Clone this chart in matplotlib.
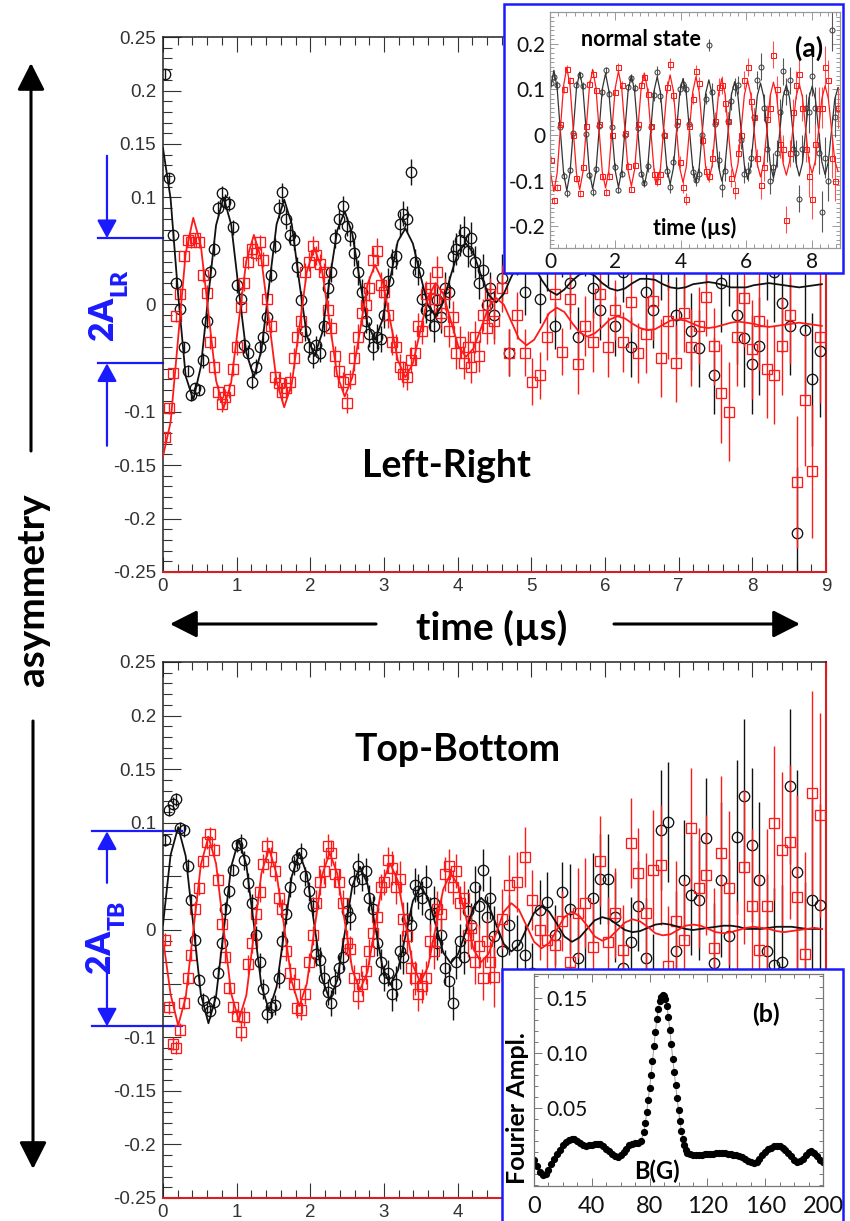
import matplotlib
matplotlib.use("Agg")
import matplotlib.pyplot as plt
import matplotlib.transforms as mtransforms
from matplotlib.patches import Rectangle
from matplotlib.ticker import MultipleLocator, FixedLocator, FuncFormatter

plt.rcParams["font.family"] = ["Liberation Sans", "DejaVu Sans"]

# ---------------- main panels: time bins (us) ----------------
TIME = [0.026, 0.077, 0.129, 0.180, 0.231, 0.283, 0.334, 0.385, 0.437, 0.488,
        0.540, 0.591, 0.642, 0.694, 0.745, 0.797, 0.848, 0.899, 0.951, 1.002,
        1.054, 1.105, 1.156, 1.208, 1.259, 1.311, 1.362, 1.413, 1.465, 1.516,
        1.568, 1.619, 1.671, 1.722, 1.773, 1.825, 1.876, 1.927, 1.979, 2.030,
        2.081, 2.133, 2.184, 2.235, 2.287, 2.338, 2.390, 2.441, 2.492, 2.544,
        2.595, 2.646, 2.698, 2.749, 2.800, 2.852, 2.903, 2.955, 3.006, 3.057,
        3.109, 3.160, 3.211, 3.263, 3.314, 3.365, 3.417, 3.468, 3.519, 3.571,
        3.622, 3.673, 3.725, 3.776, 3.827, 3.879, 3.930, 3.981, 4.033, 4.084,
        4.135, 4.187, 4.238, 4.289, 4.341, 4.392, 4.443,
        4.498, 4.600, 4.703, 4.806, 4.909, 5.011, 5.114, 5.217, 5.320, 5.423,
        5.525, 5.628, 5.731, 5.834, 5.936, 6.039, 6.142, 6.245, 6.347, 6.450,
        6.553, 6.656, 6.758, 6.861, 6.964, 7.067, 7.169, 7.272, 7.375, 7.478,
        7.580, 7.683, 7.786, 7.889, 7.991, 8.094, 8.197, 8.300, 8.402, 8.505,
        8.608, 8.711, 8.813, 8.916]

FIT_T = [0.000, 0.103, 0.206, 0.308, 0.411, 0.514, 0.617, 0.720, 0.822, 0.925,
         1.028, 1.131, 1.234, 1.336, 1.439, 1.542, 1.645, 1.748, 1.850, 1.953,
         2.056, 2.159, 2.262, 2.364, 2.467, 2.570, 2.673, 2.776, 2.878, 2.981,
         3.084, 3.187, 3.290, 3.392, 3.495, 3.598, 3.701, 3.804, 3.906, 4.009,
         4.112, 4.215, 4.318, 4.420, 4.523, 4.626, 4.729, 4.831, 4.934, 5.037,
         5.140, 5.243, 5.346, 5.448, 5.551, 5.654, 5.757, 5.860, 5.962, 6.065,
         6.168, 6.271, 6.374, 6.476, 6.579, 6.682, 6.785, 6.888, 6.990, 7.093,
         7.196, 7.299, 7.402, 7.504, 7.607, 7.710, 7.813, 7.916, 8.018, 8.121,
         8.224, 8.327, 8.430, 8.532, 8.635, 8.738, 8.841, 8.944]

# Left-Right asymmetry
LR_BLACK = [0.215, 0.118, 0.065, 0.020, -0.004, -0.040, -0.062, -0.085, -0.078, -0.080,
            -0.052, -0.015, 0.030, 0.052, 0.090, 0.104, 0.096, 0.094, 0.072, 0.018,
            0.005, -0.038, -0.045, -0.072, -0.058, -0.040, -0.030, -0.012, 0.028, 0.055,
            0.090, 0.105, 0.080, 0.065, 0.060, 0.035, 0.004, -0.025, -0.040, -0.050,
            -0.038, -0.045, -0.020, 0.015, 0.030, 0.062, 0.080, 0.092, 0.073, 0.064,
            0.048, 0.030, 0.012, -0.015, -0.028, -0.040, -0.030, -0.032, -0.010, 0.022,
            0.040, 0.045, 0.075, 0.085, 0.080, 0.124, 0.040, 0.030, 0.005, -0.005,
            -0.010, -0.020, 0.004, -0.012, 0.015, 0.012, 0.045, 0.052, 0.060, 0.068,
            0.050, 0.062, 0.040, 0.020, 0.032, 0.000, 0.015,
            -0.010, 0.025, -0.045, 0.050, 0.012, 0.060, 0.005, 0.035, -0.020, 0.048,
            0.020, -0.030, 0.055, 0.015, -0.005, 0.045, -0.020, 0.030, -0.040, 0.060,
            0.012, -0.005, 0.040, 0.050, -0.010, 0.035, -0.025, -0.041, 0.055, -0.066,
            0.020, 0.045, -0.010, -0.031, -0.056, -0.039, 0.050, 0.030, 0.001, -0.020,
            -0.214, -0.024, -0.070, -0.043]
LR_RED = [-0.124, -0.097, -0.064, -0.011, 0.010, 0.045, 0.060, 0.058, 0.062, 0.058,
          0.028, 0.011, -0.035, -0.058, -0.082, -0.093, -0.086, -0.080, -0.060, -0.040,
          -0.002, 0.020, 0.040, 0.052, 0.048, 0.058, 0.042, 0.005, -0.020, -0.068,
          -0.073, -0.082, -0.078, -0.072, -0.050, -0.030, -0.015, 0.030, 0.040, 0.055,
          0.046, 0.038, 0.030, -0.005, -0.022, -0.048, -0.062, -0.072, -0.092, -0.070,
          -0.050, -0.030, -0.008, 0.000, 0.015, 0.042, 0.050, 0.018, 0.012, -0.010,
          -0.035, -0.040, -0.058, -0.065, -0.068, -0.052, -0.045, -0.020, -0.025, 0.010,
          0.015, 0.005, 0.030, -0.008, 0.010, -0.025, -0.012, -0.045, -0.035, -0.055,
          -0.040, -0.058, -0.030, -0.048, -0.010, -0.022, 0.010,
          -0.015, 0.015, -0.045, -0.010, -0.045, -0.072, -0.066, -0.030, 0.010, -0.044,
          0.005, -0.056, -0.020, -0.035, 0.010, -0.040, -0.005, -0.035, 0.002, -0.045,
          -0.028, 0.003, -0.050, -0.015, -0.055, -0.008, -0.040, -0.020, 0.007, -0.039,
          -0.083, -0.100, -0.030, 0.006, -0.042, -0.015, -0.060, -0.066, -0.039, -0.010,
          -0.166, -0.089, -0.156, -0.030]
LR_ERR = ([0.005] * 10 + [0.007] * 20 + [0.009] * 20 + [0.012] * 20 + [0.015] * 17
          + [0.022] * 10 + [0.028] * 10 + [0.036] * 10 + [0.046] * 10 + [0.062] * 4)
LR_BLACK_FIT = [0.146, 0.099, 0.009, -0.067, -0.089, -0.058, 0.009, 0.074,
                0.100, 0.075, 0.014, -0.045, -0.068, -0.043, 0.017, 0.075,
                0.098, 0.075, 0.021, -0.029, -0.048, -0.027, 0.023, 0.069,
                0.087, 0.066, 0.022, -0.018, -0.033, -0.014, 0.024, 0.059,
                0.071, 0.057, 0.027, -0.001, -0.011, 0.002, 0.027, 0.050,
                0.057, 0.048, 0.027, 0.009, 0.002, 0.010, 0.026, 0.039,
                0.042, 0.036, 0.023, 0.013, 0.009, 0.014, 0.022, 0.028,
                0.030, 0.027, 0.020, 0.015, 0.013, 0.015, 0.020, 0.024,
                0.024, 0.023, 0.019, 0.016, 0.015, 0.016, 0.019, 0.020,
                0.021, 0.020, 0.018, 0.016, 0.016, 0.016, 0.018, 0.019,
                0.020, 0.019, 0.018, 0.017, 0.016, 0.017, 0.018, 0.019]
LR_RED_FIT = [-0.142, -0.110, -0.031, 0.048, 0.081, 0.055, -0.008, -0.071,
              -0.097, -0.073, -0.016, 0.041, 0.065, 0.042, -0.015, -0.072,
              -0.096, -0.074, -0.022, 0.031, 0.053, 0.032, -0.017, -0.066,
              -0.086, -0.068, -0.025, 0.019, 0.037, 0.022, -0.015, -0.052,
              -0.068, -0.055, -0.024, 0.007, 0.020, 0.010, -0.015, -0.039,
              -0.049, -0.041, -0.022, -0.002, 0.006, 0.000, -0.016, -0.032,
              -0.038, -0.033, -0.021, -0.008, -0.003, -0.007, -0.017, -0.026,
              -0.030, -0.027, -0.021, -0.014, -0.011, -0.013, -0.018, -0.022,
              -0.024, -0.023, -0.019, -0.015, -0.014, -0.015, -0.018, -0.021,
              -0.022, -0.021, -0.019, -0.017, -0.016, -0.017, -0.018, -0.020,
              -0.021, -0.020, -0.019, -0.018, -0.017, -0.018, -0.019, -0.020]

# Top-Bottom asymmetry
TB_BLACK = [0.084, 0.112, 0.118, 0.122, 0.095, 0.093, 0.060, 0.028, -0.009, -0.047,
            -0.065, -0.072, -0.076, -0.067, -0.040, -0.012, 0.020, 0.036, 0.056, 0.079,
            0.081, 0.065, 0.044, 0.025, -0.005, -0.030, -0.055, -0.078, -0.072, -0.070,
            -0.045, -0.010, 0.015, 0.040, 0.060, 0.066, 0.072, 0.050, 0.036, 0.022,
            -0.022, -0.028, -0.045, -0.058, -0.068, -0.048, -0.035, -0.025, 0.018, 0.012,
            0.046, 0.060, 0.048, 0.055, 0.030, 0.020, -0.012, -0.030, -0.045, -0.040,
            -0.060, -0.050, -0.020, -0.025, 0.010, 0.005, 0.042, 0.036, 0.030, 0.045,
            0.015, 0.025, -0.012, -0.005, -0.035, -0.048, -0.068, -0.030, -0.010, -0.025,
            0.018, 0.005, 0.040, 0.022, 0.056, 0.012, 0.030,
            -0.006, -0.020, 0.005, -0.014, -0.023, -0.040, 0.019, 0.026, -0.005, 0.035,
            0.020, -0.026, -0.045, 0.030, 0.048, 0.048, 0.012, -0.035, -0.011, 0.022,
            -0.026, -0.060, 0.093, 0.101, -0.020, 0.047, 0.033, 0.028, 0.086, -0.031,
            0.047, -0.006, 0.087, 0.125, 0.079, 0.047, -0.020, -0.033, -0.030, 0.134,
            0.054, -0.050, 0.028, 0.023]
TB_RED = [-0.009, -0.072, -0.106, -0.110, -0.093, -0.068, -0.045, -0.023, 0.020, 0.039,
          0.064, 0.082, 0.090, 0.075, 0.047, 0.006, -0.025, -0.054, -0.072, -0.080,
          -0.095, -0.081, -0.032, -0.012, 0.015, 0.035, 0.062, 0.078, 0.068, 0.055,
          0.030, 0.020, -0.020, -0.040, -0.050, -0.073, -0.075, -0.060, -0.030, -0.005,
          0.025, 0.045, 0.055, 0.078, 0.072, 0.052, 0.045, 0.025, -0.012, -0.018,
          -0.045, -0.062, -0.050, -0.038, -0.020, -0.003, 0.012, 0.040, 0.045, 0.065,
          0.058, 0.040, 0.048, 0.010, -0.006, -0.035, -0.045, -0.060, -0.052, -0.045,
          -0.010, -0.020, 0.020, 0.015, 0.052, 0.060, 0.040, 0.055, 0.025, 0.030,
          -0.005, 0.002, -0.030, -0.015, -0.045, -0.010, -0.030,
          -0.044, 0.010, 0.042, 0.045, 0.068, 0.028, 0.000, -0.009, -0.014, 0.008,
          -0.030, 0.016, 0.025, -0.016, 0.064, -0.011, 0.016, -0.019, 0.081, 0.053,
          0.016, 0.056, 0.061, -0.034, 0.008, -0.009, 0.095, 0.039, 0.051, -0.017,
          0.072, 0.039, -0.045, 0.059, 0.022, -0.019, 0.022, 0.100, 0.075, 0.082,
          0.031, -0.022, 0.128, 0.107]
TB_ERR = ([0.006] * 20 + [0.009] * 20 + [0.012] * 20 + [0.016] * 20 + [0.020] * 7
          + [0.028] * 10 + [0.042] * 10 + [0.056] * 10 + [0.072] * 10 + [0.095] * 4)
TB_BLACK_FIT = [0.005, 0.070, 0.096, 0.069, 0.005, -0.060, -0.087, -0.062,
                -0.002, 0.059, 0.084, 0.061, 0.005, -0.052, -0.075, -0.053,
                -0.002, 0.050, 0.072, 0.052, 0.004, -0.045, -0.065, -0.047,
                -0.003, 0.041, 0.059, 0.043, 0.004, -0.035, -0.051, -0.038,
                -0.006, 0.027, 0.040, 0.030, 0.005, -0.021, -0.031, -0.022,
                -0.001, 0.021, 0.030, 0.023, 0.005, -0.013, -0.020, -0.014,
                0.001, 0.016, 0.022, 0.017, 0.006, -0.006, -0.011, -0.007,
                0.001, 0.009, 0.012, 0.010, 0.005, 0.000, -0.002, -0.001,
                0.002, 0.005, 0.006, 0.005, 0.003, 0.001, 0.000, 0.001,
                0.002, 0.003, 0.004, 0.004, 0.003, 0.001, 0.001, 0.001,
                0.002, 0.003, 0.003, 0.003, 0.002, 0.001, 0.001, 0.001]
TB_RED_FIT = [-0.008, -0.060, -0.089, -0.063, -0.001, 0.061, 0.087, 0.062,
              0.002, -0.059, -0.084, -0.061, -0.004, 0.053, 0.076, 0.052,
              0.003, -0.048, -0.071, -0.050, 0.001, 0.051, 0.072, 0.053,
              0.008, -0.037, -0.056, -0.039, 0.003, 0.045, 0.062, 0.046,
              0.007, -0.033, -0.049, -0.034, 0.002, 0.038, 0.053, 0.041,
              0.012, -0.018, -0.030, -0.022, -0.003, 0.017, 0.025, 0.019,
              0.004, -0.011, -0.017, -0.012, 0.000, 0.012, 0.017, 0.013,
              0.004, -0.006, -0.010, -0.007, 0.000, 0.007, 0.010, 0.008,
              0.003, -0.003, -0.005, -0.004, 0.000, 0.004, 0.005, 0.004,
              0.001, -0.002, -0.003, -0.002, 0.000, 0.002, 0.003, 0.002,
              0.001, -0.001, -0.002, -0.001, 0.000, 0.001, 0.002, 0.001]

# amplitude markers (2A)
LR_LEVELS = [0.062, -0.055]
TB_LEVELS = [0.092, -0.090]

# ---------------- inset (a): normal state ----------------
T_A = [0.020, 0.119, 0.218, 0.316, 0.415, 0.514, 0.613, 0.711, 0.810, 0.909,
       1.008, 1.106, 1.205, 1.304, 1.403, 1.501, 1.600, 1.699, 1.798, 1.896,
       1.995, 2.094, 2.193, 2.291, 2.390, 2.489, 2.588, 2.686, 2.785, 2.884,
       2.983, 3.081, 3.180, 3.279, 3.378, 3.476, 3.575, 3.674, 3.773, 3.871,
       3.970, 4.069, 4.168, 4.266, 4.365, 4.464, 4.563, 4.661, 4.760, 4.859,
       4.958, 5.056, 5.155, 5.254, 5.353, 5.451, 5.550, 5.649, 5.748, 5.846,
       5.945, 6.044, 6.143, 6.241, 6.340, 6.439, 6.538, 6.636, 6.735, 6.834,
       6.933, 7.031, 7.130, 7.229, 7.328, 7.426, 7.525, 7.624, 7.723, 7.821,
       7.920, 8.019, 8.118, 8.216, 8.315, 8.414, 8.513, 8.611, 8.710, 8.809]
NS_BLACK = [0.115,
            0.128, 0.110, 0.018, -0.090, -0.128, -0.076, 0.004, 0.110,
            0.131, 0.108, 0.002, -0.088, -0.125, -0.075, 0.020, 0.094,
            0.142, 0.090, 0.018, -0.070, -0.120, -0.085, 0.000, 0.105,
            0.125, 0.104, 0.015, -0.085, -0.106, -0.068, 0.018, 0.088,
            0.138, 0.085, 0.000, -0.080, -0.115, -0.060, 0.022, 0.100,
            0.112, 0.100, 0.025, -0.082, -0.098, -0.085, 0.000, 0.080,
            0.197, 0.095, 0.025, -0.055, -0.115, -0.080, 0.030, 0.075,
            0.105, 0.110, -0.010, -0.085, -0.080, -0.050, 0.040, 0.120,
            0.150, 0.060, -0.030, -0.100, -0.070, -0.040, 0.050, 0.140,
            0.095, 0.120, -0.030, -0.040, -0.140, -0.030, 0.060, 0.050,
            0.130, 0.060, -0.040, -0.168, -0.050, -0.100, 0.230, 0.040,
            0.060]
NS_RED = [-0.054,
          -0.143, -0.115, 0.025, 0.100, 0.145, 0.120, 0.000, -0.095,
          -0.128, -0.070, 0.020, 0.112, 0.135, 0.098, 0.025, -0.090,
          -0.125, -0.090, 0.000, 0.095, 0.150, 0.110, 0.005, -0.068,
          -0.118, -0.065, 0.025, 0.110, 0.128, 0.090, 0.020, -0.085,
          -0.100, -0.085, 0.000, 0.105, 0.155, 0.088, 0.030, -0.060,
          -0.115, -0.140, 0.020, 0.080, 0.140, 0.115, -0.010, -0.080,
          -0.090, -0.050, 0.030, 0.105, 0.110, 0.070, 0.030, -0.095,
          -0.120, -0.040, 0.000, 0.120, 0.150, 0.075, 0.040, -0.050,
          -0.110, -0.070, 0.035, 0.060, 0.176, 0.100, -0.020, -0.030,
          -0.186, -0.040, 0.050, 0.110, 0.135, 0.060, -0.030, -0.090,
          -0.140, -0.020, 0.060, 0.060, 0.150, 0.120, -0.050, -0.100,
          0.060]
NS_ERR = [0.008] * 30 + [0.013] * 20 + [0.020] * 15 + [0.030] * 15 + [0.045] * 10
NS_BLACK_FIT = [0.103,
                0.142, 0.103, 0.010, -0.083, -0.122, -0.083, 0.010, 0.103,
                0.138, 0.101, 0.010, -0.081, -0.118, -0.081, 0.010, 0.101,
                0.135, 0.098, 0.010, -0.078, -0.115, -0.078, 0.010, 0.098,
                0.131, 0.096, 0.010, -0.076, -0.111, -0.076, 0.010, 0.096,
                0.128, 0.093, 0.010, -0.073, -0.108, -0.073, 0.010, 0.093,
                0.124, 0.091, 0.010, -0.071, -0.104, -0.071, 0.010, 0.091,
                0.121, 0.089, 0.010, -0.069, -0.101, -0.069, 0.010, 0.089,
                0.117, 0.086, 0.010, -0.066, -0.097, -0.066, 0.010, 0.086,
                0.114, 0.084, 0.010, -0.064, -0.094, -0.064, 0.010, 0.084,
                0.110, 0.081, 0.010, -0.061, -0.090, -0.061, 0.010, 0.081,
                0.107, 0.079, 0.010, -0.059, -0.087, -0.059, 0.010, 0.079,
                0.104]
NS_RED_FIT = [-0.084,
              -0.124, -0.084, 0.012, 0.108, 0.148, 0.108, 0.012, -0.084,
              -0.120, -0.081, 0.012, 0.105, 0.144, 0.105, 0.012, -0.081,
              -0.116, -0.079, 0.012, 0.103, 0.140, 0.103, 0.012, -0.079,
              -0.112, -0.076, 0.012, 0.100, 0.136, 0.100, 0.012, -0.076,
              -0.108, -0.073, 0.012, 0.097, 0.132, 0.097, 0.012, -0.073,
              -0.104, -0.070, 0.012, 0.094, 0.128, 0.094, 0.012, -0.070,
              -0.100, -0.067, 0.012, 0.091, 0.124, 0.091, 0.012, -0.067,
              -0.096, -0.064, 0.012, 0.088, 0.120, 0.088, 0.012, -0.064,
              -0.092, -0.062, 0.012, 0.086, 0.116, 0.086, 0.012, -0.062,
              -0.088, -0.059, 0.012, 0.083, 0.112, 0.083, 0.012, -0.059,
              -0.084, -0.056, 0.012, 0.080, 0.108, 0.080, 0.012, -0.056,
              -0.080]

# ---------------- inset (b): Fourier amplitude vs field ----------------
B_FIELD = [0, 2, 4, 6, 8, 10, 12, 14, 16, 18, 20, 22, 24, 26, 28, 30, 32, 34, 36, 38,
           40, 42, 44, 46, 48, 50, 52, 54, 56, 58, 60, 62, 64, 66, 68, 70, 72, 74,
           76, 77, 78, 79, 80, 81, 82, 83, 84, 85, 86, 87, 88, 89, 90, 91, 92, 93,
           94, 95, 96, 97, 98, 99, 100, 101, 102, 103, 104, 105, 106,
           108, 110, 112, 114, 116, 118, 120, 122, 124, 126, 128, 130, 132, 134, 136,
           138, 140, 142, 144, 146, 148, 150, 152, 154, 156, 158, 160, 162, 164, 166,
           168, 170, 172, 174, 176, 178, 180, 182, 184, 186, 188, 190, 192, 194, 196,
           198, 200]
FOURIER_AMP = [0.003, -0.003, -0.008, -0.011, -0.010, -0.006, -0.001, 0.004, 0.008, 0.012,
               0.016, 0.019, 0.021, 0.022, 0.022, 0.020, 0.018, 0.016, 0.015, 0.016,
               0.016, 0.017, 0.017, 0.017, 0.015, 0.013, 0.011, 0.008, 0.006, 0.005,
               0.007, 0.010, 0.013, 0.016, 0.017, 0.018, 0.018, 0.020,
               0.028, 0.036, 0.046, 0.057, 0.068, 0.080, 0.093, 0.106, 0.119, 0.131,
               0.140, 0.147, 0.151, 0.153, 0.152, 0.149, 0.143, 0.133, 0.121, 0.108,
               0.095, 0.083, 0.071, 0.059, 0.048, 0.038, 0.029, 0.022, 0.016, 0.012, 0.009,
               0.008, 0.007, 0.007, 0.007, 0.007, 0.008, 0.008, 0.008, 0.008, 0.009,
               0.009, 0.009, 0.009, 0.008, 0.008, 0.007, 0.007, 0.006, 0.005, 0.004,
               0.002, 0.001, 0.000, 0.001, 0.004, 0.007, 0.010, 0.013, 0.014, 0.015,
               0.015, 0.015, 0.014, 0.012, 0.009, 0.006, 0.003, 0.001, 0.002, 0.004,
               0.007, 0.010, 0.011, 0.009, 0.006, 0.003, 0.001]

# ---------------- layout helpers (pixel boxes, origin top-left) ----------------
W, H = 850, 1221
BLUE = "#1a1aff"
RED = "#ff1a1a"


def box(x0, y0, x1, y1):
    return [x0 / W, 1 - y1 / H, (x1 - x0) / W, (y1 - y0) / H]


def ylab(v, pos):
    v = round(v, 3)
    if abs(abs(v) - 0.05) < 1e-6:
        return ""
    if v == 0:
        return "0"
    return "%g" % v


def main_panel(rect, black, red, err, black_fit, red_fit, xmax_label):
    ax = fig.add_axes(rect)
    ax.errorbar(TIME, black, yerr=err, fmt="none", ecolor="#111111", elinewidth=1.0, zorder=2)
    ax.plot(TIME, black, "o", ms=7.5, mfc="none", mec="#111111", mew=0.95, zorder=3)
    ax.errorbar(TIME, red, yerr=err, fmt="none", ecolor=RED, elinewidth=1.0, zorder=4)
    ax.plot(TIME, red, "s", ms=7.3, mfc="none", mec=RED, mew=0.95, zorder=5)
    ax.plot(FIT_T, black_fit, color="#111111", lw=1.3, zorder=6)
    ax.plot(FIT_T, red_fit, color=RED, lw=1.3, zorder=7)
    ax.set_xlim(0, 9)
    ax.set_ylim(-0.25, 0.25)
    ax.xaxis.set_major_locator(MultipleLocator(1))
    ax.xaxis.set_minor_locator(MultipleLocator(0.2))
    ax.yaxis.set_major_locator(MultipleLocator(0.05))
    ax.yaxis.set_minor_locator(MultipleLocator(0.01))
    ax.yaxis.set_major_formatter(FuncFormatter(ylab))
    ax.xaxis.set_major_formatter(
        FuncFormatter(lambda v, p: "%d" % round(v) if v <= xmax_label + 1e-9 else ""))
    ax.tick_params(which="both", direction="in", top=True, bottom=True, left=True,
                   right=False, colors="#333333", width=0.8, labelsize=13.5)
    ax.tick_params(axis="y", which="major", length=13, pad=5)
    ax.tick_params(axis="y", which="minor", length=6.5)
    ax.tick_params(axis="x", which="major", length=11, pad=4)
    ax.tick_params(axis="x", which="minor", length=6)
    for s in ("left", "top"):
        ax.spines[s].set_color("#222222")
        ax.spines[s].set_linewidth(1.1)
    for s in ("bottom", "right"):
        ax.spines[s].set_color("#d81e1e")
        ax.spines[s].set_linewidth(1.5)
    return ax


def amplitude_marks(ax, levels, x_from, x_to, x_arrow, tails):
    tr = mtransforms.blended_transform_factory(ax.transAxes, ax.transData)
    for lvl, tail in zip(levels, tails):
        ax.plot([x_from, x_to], [lvl, lvl], color=BLUE, lw=1.6, transform=tr, clip_on=False)
        ax.annotate("", xy=(x_arrow, lvl), xytext=(x_arrow, tail), xycoords=tr, textcoords=tr,
                    arrowprops=dict(arrowstyle="-|>,head_length=0.55,head_width=0.3",
                                    color=BLUE, lw=1.6, shrinkA=0, shrinkB=0,
                                    mutation_scale=20), annotation_clip=False)


fig = plt.figure(figsize=(8.5, 12.21), dpi=100)

ax_lr = main_panel(box(163, 37, 826, 572), LR_BLACK, LR_RED, LR_ERR, LR_BLACK_FIT, LR_RED_FIT, 9)
ax_tb = main_panel(box(163, 662, 826, 1198), TB_BLACK, TB_RED, TB_ERR, TB_BLACK_FIT, TB_RED_FIT, 4)

amplitude_marks(ax_lr, LR_LEVELS, -0.098, 0.0, -0.0845, [0.139, -0.132])
amplitude_marks(ax_tb, TB_LEVELS, -0.107, 0.029, -0.0845, [0.044, -0.040])

# white inset frames with blue border
frames = fig.add_axes([0, 0, 1, 1], zorder=2)
frames.set_xlim(0, W)
frames.set_ylim(H, 0)
frames.axis("off")
frames.add_patch(Rectangle((504, 4), 339, 269, facecolor="white", edgecolor=BLUE, lw=1.8))
frames.add_patch(Rectangle((502, 969), 341, 262, facecolor="white", edgecolor=BLUE, lw=1.8, clip_on=False))

# inset (a)
axa = fig.add_axes(box(550, 12, 840, 248), zorder=3)
axa.errorbar(T_A, NS_BLACK, yerr=NS_ERR, fmt="none", ecolor="#555555", elinewidth=0.8)
axa.plot(T_A, NS_BLACK, "o", ms=3.6, mfc="none", mec="#444444", mew=0.75)
axa.errorbar(T_A, NS_RED, yerr=NS_ERR, fmt="none", ecolor="#ff5050", elinewidth=0.8)
axa.plot(T_A, NS_RED, "s", ms=3.6, mfc="none", mec=RED, mew=0.75)
axa.plot(T_A, NS_BLACK_FIT, color="#333333", lw=0.9)
axa.plot(T_A, NS_RED_FIT, color=RED, lw=0.9)
axa.set_xlim(0, 8.87)
axa.set_ylim(-0.248, 0.270)
axa.xaxis.set_major_locator(MultipleLocator(2))
axa.xaxis.set_minor_locator(MultipleLocator(0.25))
axa.yaxis.set_major_locator(MultipleLocator(0.1))
axa.yaxis.set_minor_locator(MultipleLocator(0.01))
axa.yaxis.set_major_formatter(FuncFormatter(lambda v, p: "0" if abs(v) < 1e-9 else "%g" % round(v, 2)))
axa.tick_params(which="both", direction="in", top=True, right=True, colors="#999999", width=0.7)
axa.tick_params(which="major", length=6, labelsize=15, labelcolor="#111111", pad=3)
axa.tick_params(which="minor", length=3)
for lab in axa.get_xticklabels() + axa.get_yticklabels():
    lab.set_fontfamily("Lato")
for s in axa.spines.values():
    s.set_color("#999999")
    s.set_linewidth(0.9)

# inset (b)
axb = fig.add_axes(box(534, 974, 823, 1186), zorder=3)
axb.plot(B_FIELD, FOURIER_AMP, "-", color="#9a9a9a", lw=0.7)
axb.plot(B_FIELD, FOURIER_AMP, "o", ms=4.2, color="black", mec="black")
axb.set_xlim(0, 200)
axb.set_ylim(-0.021, 0.172)
axb.xaxis.set_major_locator(MultipleLocator(40))
axb.xaxis.set_minor_locator(MultipleLocator(10))
axb.yaxis.set_major_locator(FixedLocator([0.05, 0.10, 0.15]))
axb.yaxis.set_minor_locator(MultipleLocator(0.01))
axb.yaxis.set_major_formatter(FuncFormatter(lambda v, p: "%.2f" % v))
axb.tick_params(which="both", direction="in", top=True, right=True, colors="#777777", width=0.7)
axb.tick_params(which="major", length=6, labelcolor="#111111")
axb.tick_params(which="minor", length=3)
axb.tick_params(axis="x", labelsize=17, pad=7)
axb.tick_params(axis="y", labelsize=15, pad=-9)
for lab in axb.get_yticklabels():
    lab.set_horizontalalignment("left")
for lab in axb.get_xticklabels() + axb.get_yticklabels():
    lab.set_fontfamily("Lato")
for s in axb.spines.values():
    s.set_color("#777777")
    s.set_linewidth(0.9)

# text and arrows drawn over everything
ov = fig.add_axes([0, 0, 1, 1], zorder=4)
ov.set_xlim(0, W)
ov.set_ylim(H, 0)
ov.axis("off")
big = dict(family="Lato", weight="bold", color="black", ha="center", va="center")
ov.text(446, 466, "Left-Right", fontsize=27, **big)
ov.text(458, 750, "Top-Bottom", fontsize=27, **big)
ov.text(492, 628, "time (\u00b5s)", fontsize=28, **big)
ov.text(33, 590, "asymmetry", fontsize=28, rotation=90, **big)
ov.text(641, 40, "normal state", fontsize=15.5, **big)
ov.text(809, 48, "(a)", fontsize=19, **big)
ov.text(695, 228, "time (\u00b5s)", fontsize=15.5, **big)
ov.text(766, 1014, "(b)", fontsize=18, **big)
ov.text(657, 1171, "B(G)", fontsize=17, **big)
ov.text(518, 1108, "Fourier Ampl.", fontsize=18, rotation=90, **big)

blue_txt = dict(family="Lato", weight="heavy", color=BLUE, ha="center", va="center", rotation=90)
ov.text(103, 318, "2A", fontsize=24, **blue_txt)
ov.text(120, 283, "LR", fontsize=16.5, **blue_txt)
ov.text(100, 951, "2A", fontsize=24, **blue_txt)
ov.text(118, 915, "TB", fontsize=16.5, **blue_txt)

arrow = dict(arrowstyle="-|>,head_length=0.75,head_width=0.38", color="black",
             lw=2.2, shrinkA=0, shrinkB=0, mutation_scale=22)
ov.annotate("", xy=(31, 63), xytext=(31, 451), arrowprops=arrow)
ov.annotate("", xy=(33, 1169), xytext=(33, 721), arrowprops=arrow)
ov.annotate("", xy=(170, 624), xytext=(376, 624), arrowprops=arrow)
ov.annotate("", xy=(800, 624), xytext=(614, 624), arrowprops=arrow)

fig.savefig("out.png", dpi=100)
